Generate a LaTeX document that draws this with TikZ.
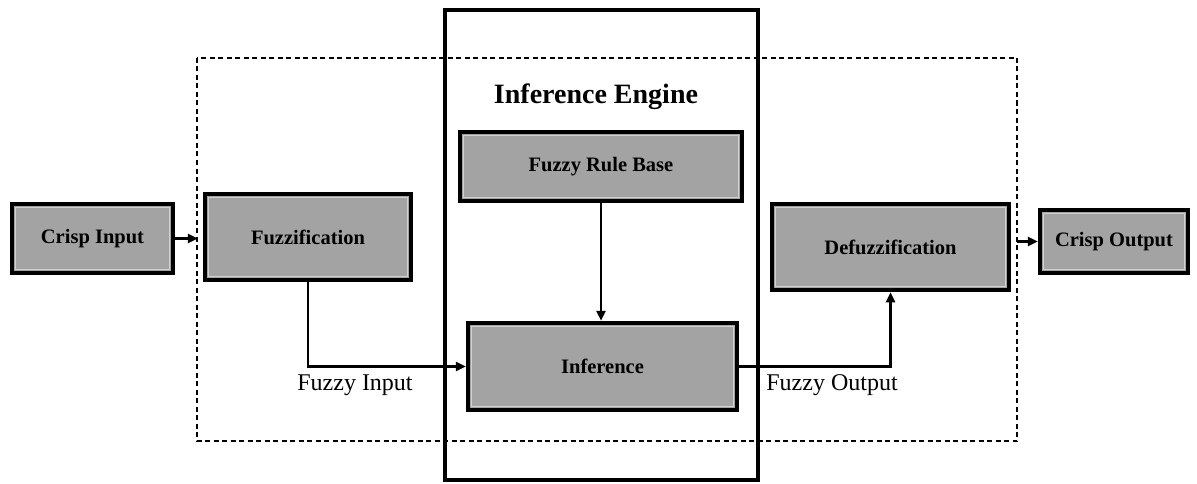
\documentclass[tikz,border=0pt]{standalone}
\usepackage{fontspec}
\setmainfont{Liberation Serif}
\usetikzlibrary{arrows.meta,calc}
\begin{document}
\begin{tikzpicture}[x=1pt,y=1pt,
  blk/.style={draw=black, line width=4.5pt, fill=black!36, inner sep=0pt,
    font=\bfseries\fontsize{20.5}{22}\selectfont,
    path picture={\draw[black!18, line width=1.5pt]
      ([shift={(3.5pt,-3.5pt)}]path picture bounding box.north west) rectangle
      ([shift={(-3.5pt,3.5pt)}]path picture bounding box.south east);}},
  conn/.style={line width=2.4pt, -{Triangle[length=10pt,width=9pt]}},
  lbl/.style={font=\fontsize{24}{26}\selectfont, inner sep=0pt}]
\useasboundingbox (0,0) rectangle (1197,483);
% outer frames
\draw[line width=1.6pt, dash pattern=on 5pt off 3.5pt] (197,425) rectangle (1017,42);
\draw[line width=3.2pt] (445,473) rectangle (758,3);
\node[font=\bfseries\fontsize{28}{30}\selectfont, inner sep=0pt] (title) at (596,386) {Inference Engine};
% blocks
\node[blk, minimum width=161pt, minimum height=69pt] (ci) at (92.5,244.5) {Crisp Input};
\node[blk, minimum width=206pt, minimum height=86pt] (fz) at (308,246) {Fuzzification};
\node[blk, minimum width=282pt, minimum height=69pt] (rb) at (601,316.5) {Fuzzy Rule Base};
\node[blk, minimum width=269pt, minimum height=87pt] (inf) at (602.5,116.5) {Inference};
\node[blk, minimum width=237pt, minimum height=86pt] (df) at (890.5,236) {Defuzzification};
\node[blk, minimum width=148pt, minimum height=63pt] (co) at (1114,241.5) {Crisp Output};
% connectors
\draw[conn, shorten >=5pt] (ci.east) -- (fz.west |- ci.east);
\draw[conn] (fz.south) -- (fz.south |- inf.west) -- (inf.west);
\draw[conn] (rb.south) -- (rb.south |- inf.north);
\draw[conn] (inf.east) -- (df.south |- inf.east) -- (df.south);
\draw[conn, shorten <=6pt] (df.east |- co.west) -- (co.west);
% labels
\node[lbl] (fi) at (355,98) {Fuzzy Input};
\node[lbl] (fo) at (832,98) {Fuzzy Output};
\end{tikzpicture}
\end{document}
